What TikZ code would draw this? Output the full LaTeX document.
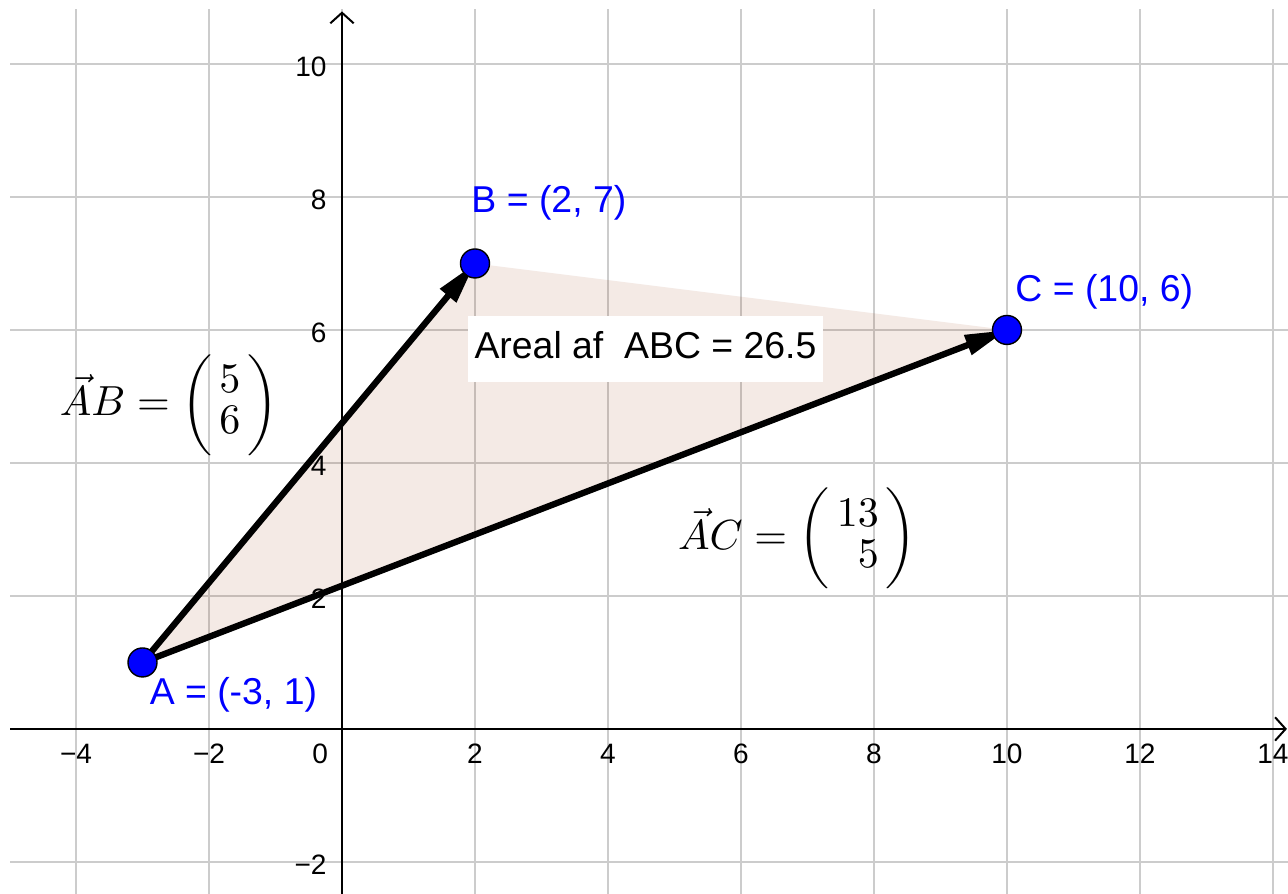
\documentclass[tikz,border=0pt]{standalone}
\usepackage{amsmath}
\usepackage[no-math]{fontspec}
\newfontfamily\arial{Liberation Sans}
\usetikzlibrary{arrows.meta}
\definecolor{gridgray}{RGB}{204,204,204}
\definecolor{ptblue}{RGB}{0,0,255}
\definecolor{tribrown}{RGB}{153,51,0}
\newcommand{\colvec}[2]{\biggl(\,\renewcommand{\arraystretch}{0.8}\begin{array}{@{}r@{}}#1\\#2\end{array}\,\biggr)}
\tikzset{
  gridline/.style={draw=gridgray, line width=0.8pt},
  axisline/.style={draw=black, line width=0.85pt, -{Straight Barb[length=4.5pt,width=10pt,line width=0.85pt]}},
  vecline/.style={draw=black, line width=2.7pt, -{Triangle[length=18pt,width=8.5pt]}},
  ptdot/.style={circle, draw=black, line width=0.6pt, fill=ptblue, minimum size=0.436cm, inner sep=0pt},
  ptlabel/.style={text=ptblue, font=\arial\fontsize{16}{19}\selectfont, inner sep=0pt, anchor=base west},
  ticklbl/.style={font=\arial\fontsize{12}{14}\selectfont, inner sep=0pt},
  mathlbl/.style={inner sep=0pt},
  areabox/.style={fill=white, font=\arial\fontsize{16}{19}\selectfont, minimum width=5.34cm, minimum height=0.99cm, inner xsep=2.5pt, inner ysep=0pt, text depth=3.5pt}
}
\begin{document}
\begin{tikzpicture}[x=1cm,y=1cm]
\useasboundingbox (-5.143,-2.481) rectangle (14.226,10.962);
\clip (-5.143,-2.481) rectangle (14.226,10.962);
\fill[white] (-5.143,-2.481) rectangle (14.226,10.962);
% grid
\foreach \x in {-4,-2,...,14} \draw[gridline] (\x,-2.6) -- (\x,10.83);
\foreach \y in {-2,2,4,6,8,10} \draw[gridline] (-4.99,\y) -- (14.4,\y);
% points as coordinates
\coordinate (A) at (-3,1);
\coordinate (B) at (2,7);
\coordinate (C) at (10,6);
% triangle fill
\fill[tribrown, fill opacity=0.1] (A) -- (B) -- (C) -- cycle;
% axes
\coordinate (xs) at (-4.99,0);
\coordinate (xe) at (14.21,0);
\coordinate (ys) at (0,-2.6);
\coordinate (ye) at (0,10.79);
\draw[axisline] (xs) -- (xe);
\draw[axisline] (ys) -- (ye);
% tick labels
\foreach \x/\t in {-4/−4,-2/−2,2/2,4/4,6/6,8/8,10/10,12/12,14/14}
  \node[ticklbl] (tx\x) at (\x,-0.37) {\t};
\node[ticklbl] (tx0) at (-0.33,-0.37) {0};
\foreach \y/\t in {-2/−2,2/2,4/4,6/6,8/8,10/10}
  \node[ticklbl, anchor=east] (ty\y) at (-0.226,\y-0.04) {\t};
% vectors
\draw[vecline] (A) -- (B);
\draw[vecline] (A) -- (C);
% dots
\node[ptdot] (pA) at (A) {};
\node[ptdot] (pB) at (B) {};
\node[ptdot] (pC) at (C) {};
% point labels
\node[ptlabel] (lA) at (-2.898,0.361) {A = (-3, 1)};
\node[ptlabel] (lB) at (1.94,7.764) {B = (2, 7)};
\node[ptlabel] (lC) at (10.12,6.425) {C = (10, 6)};
% area box
\node[areabox] (area) at (4.564,5.714) {Areal af\ \ ABC = 26.5};
% vector labels
\node[mathlbl] (vAB) at (-2.60,4.87) {\scalebox{1.8}{$\vec{A}B = \colvec{5}{6}$}};
\node[mathlbl] (vAC) at (6.85,2.86) {\scalebox{1.8}{$\vec{A}C = \colvec{13}{5}$}};
\end{tikzpicture}
\end{document}
